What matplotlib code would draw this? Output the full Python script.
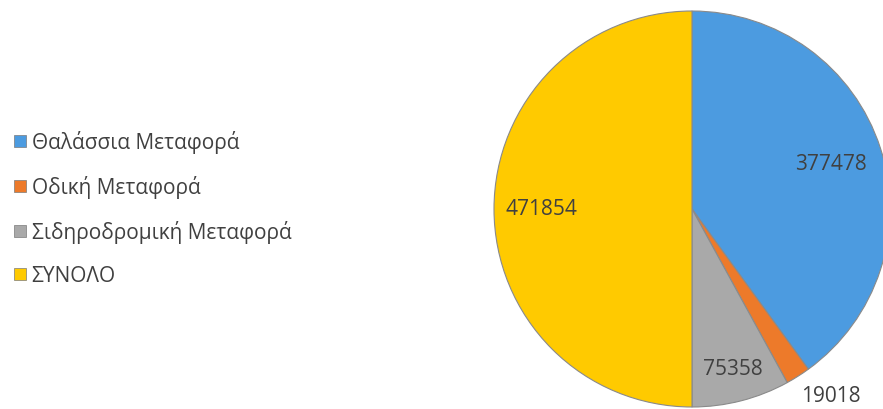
import matplotlib
matplotlib.use("Agg")
import matplotlib.pyplot as plt
import numpy as np
from matplotlib.lines import Line2D

categories = ["Θαλάσσια Μεταφορά", "Οδική Μεταφορά", "Σιδηροδρομική Μεταφορά", "ΣΥΝΟΛΟ"]
values = [377478, 19018, 75358, 471854]
colors = ["#4c9be0", "#ed7a2a", "#a9a9a9", "#ffca00"]
label_r = [0.74, 1.0, 0.83, 0.76]
label_offset_px = [(0, 0), (33, -19), (0, 0), (0, 0)]

plt.rcParams['font.family'] = ['Open Sans', 'DejaVu Sans']

W, H = 883, 410
fig = plt.figure(figsize=(W/100, H/100), dpi=100)
cx, cy, R = 692, 210, 198
ax = fig.add_axes([(cx-R)/W, (H-cy-R)/H, 2*R/W, 2*R/H])
wedges, _ = ax.pie(values, colors=colors, startangle=90, counterclock=False,
                   radius=1.0, wedgeprops=dict(edgecolor="#8a8a8a", linewidth=0.8))
ax.set_xlim(-1, 1); ax.set_ylim(-1, 1)
ax.set_aspect('equal')
ax.axis('off')
for w, v, r, off in zip(wedges, values, label_r, label_offset_px):
    ang = np.deg2rad((w.theta1 + w.theta2) / 2)
    ax.annotate(str(v), (r*np.cos(ang), r*np.sin(ang)),
                xytext=(off[0]*0.72, off[1]*0.72), textcoords='offset points',
                ha='center', va='center', fontsize=15, color='#404040',
                annotation_clip=False)

handles = [Line2D([0], [0], marker='s', linestyle='none', markersize=8.5,
                  markerfacecolor=c, markeredgecolor='#7a7a7a', markeredgewidth=0.5) for c in colors]
leg = fig.legend(handles, categories, loc='center left', bbox_to_anchor=(-0.003, 0.49),
                 frameon=False, fontsize=15, labelspacing=1.06, handlelength=0.6,
                 handletextpad=0.25, labelcolor='#404040', borderpad=0.3)
fig.savefig("out.png", dpi=100)
